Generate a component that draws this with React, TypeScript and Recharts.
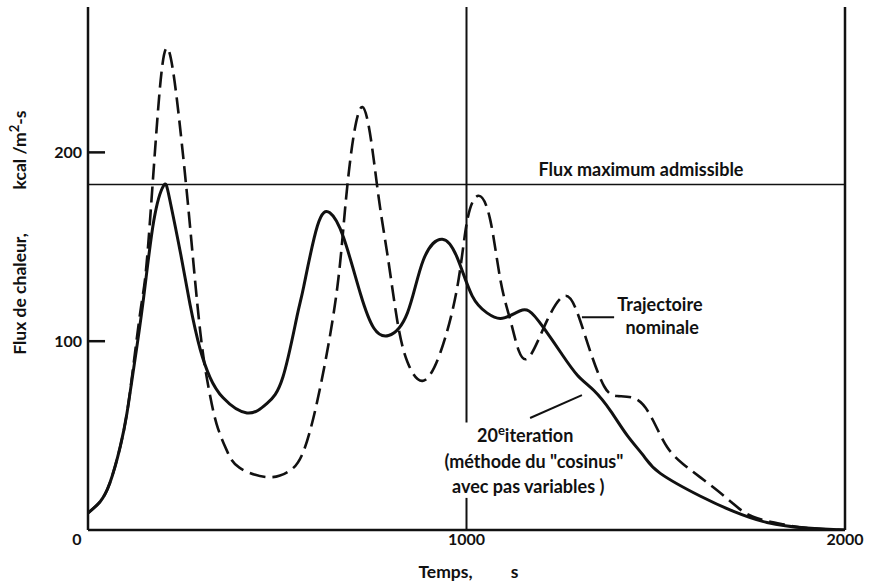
import React from "react";
import {
  LineChart,
  Line,
  XAxis,
  YAxis,
  ReferenceLine,
  ReferenceDot,
} from "recharts";

// 20e itération (méthode du "cosinus" avec pas variables)
const iterTime = [
  0, 32, 58, 85, 103, 118, 145, 174, 200, 215, 245, 270, 296, 322, 357, 420,
  473, 515, 552, 570, 606, 639, 675, 720, 755, 794, 844, 886, 936, 976, 1015,
  1054, 1090, 1130, 1165, 1204, 1249, 1293, 1336, 1381, 1425, 1469, 1512, 1617,
  1704, 1794, 1900, 2000,
];
const iterFlux = [
  9, 15, 25, 44, 62, 82, 120, 164, 182.5, 176, 146, 119, 96, 81, 70, 62, 67,
  81, 113, 129, 161, 168, 155, 125, 107, 103, 115, 143, 154, 144, 124, 115, 112,
  115, 116, 107, 94, 82, 74, 63, 50, 39, 30, 18, 10, 4, 1, 0,
];

// trajectoire nominale
const nomTime = [
  0, 32, 58, 85, 103, 118, 140, 157, 183, 211, 245, 270, 296, 318, 340, 367,
  400, 474, 530, 570, 614, 659, 685, 725, 764, 791, 817, 844, 884, 931, 976,
  1002, 1032, 1063, 1090, 1116, 1138, 1167, 1213, 1259, 1293, 1328, 1364, 1398,
  1451, 1493, 1530, 1572, 1617, 1662, 1704, 1757, 1836, 1900, 2000,
];
const nomFlux = [
  9, 15, 25, 44, 62, 84, 118, 146, 217, 255, 210, 160, 106, 76, 56, 42, 33, 28,
  31, 42, 76, 129, 182, 224, 182, 146, 111, 89, 79, 94, 129, 164, 177, 164, 132,
  111, 95, 92, 111, 124, 115, 94, 76, 71, 69, 58, 44, 35, 28, 21, 14, 7, 3, 1,
  0,
];

const xTicks = [0, 1000, 2000];
const yTicks = [100, 200];
const fluxMax = 183;

const iterData = iterTime.map((t, i) => ({ t, flux: iterFlux[i] }));
const nomData = nomTime.map((t, i) => ({ t, flux: nomFlux[i] }));

const FONT = "Lato, 'DejaVu Sans', sans-serif";

function XTick(props: any) {
  const { x, y, payload } = props;
  const dx = payload.value === 0 ? -11 : 0;
  return (
    <text
      x={x + dx}
      y={y}
      dy={11}
      textAnchor="middle"
      fontFamily={FONT}
      fontWeight={700}
      fontSize={16}
      fill="#111"
    >
      {payload.value}
    </text>
  );
}

function YTick(props: any) {
  const { x, y, payload } = props;
  return (
    <text
      x={x}
      y={y}
      dy={6}
      textAnchor="end"
      fontFamily={FONT}
      fontWeight={700}
      fontSize={16}
      fill="#111"
    >
      {payload.value}
    </text>
  );
}

function YLabel(props: any) {
  const { viewBox } = props;
  const cx = viewBox.x + 20;
  return (
    <g fontFamily={FONT} fontWeight={700} fontSize={17.5} fill="#111">
      <text x={cx} y={294} textAnchor="middle" transform={`rotate(-90 ${cx} 294)`} dy={6}>
        Flux de chaleur,
      </text>
      <text x={cx} y={150} textAnchor="middle" transform={`rotate(-90 ${cx} 150)`} dy={6}>
        kcal /m<tspan dy={-7} fontSize={13}>2</tspan>
        <tspan dy={7}>-s</tspan>
      </text>
    </g>
  );
}

function XLabel(props: any) {
  const { viewBox } = props;
  const cx = viewBox.x + viewBox.width / 2;
  const y = viewBox.y + 48;
  return (
    <g fontFamily={FONT} fontWeight={700} fontSize={17.5} fill="#111">
      <text x={cx - 21} y={y} textAnchor="middle">
        Temps,
      </text>
      <text x={cx + 48} y={y} textAnchor="middle">
        s
      </text>
    </g>
  );
}

const textStyle = {
  fontFamily: FONT,
  fontWeight: 700,
  fill: "#111",
};

function note(key: string, t: number, v: number, label: any) {
  return (
    <ReferenceDot
      key={key}
      x={t}
      y={v}
      r={0}
      ifOverflow="visible"
      shape={(p: any) => (
        <text x={p.cx} y={p.cy} dy={6} textAnchor="middle" fontSize={18} style={textStyle}>
          {label}
        </text>
      )}
    />
  );
}

export default function App() {
  return (
    <div style={{ position: "absolute", left: 0, top: 0, background: "#fff" }}>
      <LineChart
        width={873}
        height={586}
        margin={{ top: 7, right: 28, bottom: 0, left: 0 }}
      >
        <XAxis
          type="number"
          dataKey="t"
          domain={[0, 2000]}
          ticks={xTicks}
          tickLine={false}
          tickSize={0}
          tickMargin={4}
          tick={<XTick />}
          axisLine={{ stroke: "#111", strokeWidth: 2.5 }}
          height={56}
          allowDataOverflow
          label={<XLabel />}
        />
        <YAxis
          type="number"
          domain={[0, 277]}
          ticks={yTicks}
          tickLine={false}
          tickSize={0}
          tickMargin={6}
          tick={<YTick />}
          axisLine={{ stroke: "#111", strokeWidth: 2.5 }}
          width={88}
          allowDataOverflow
          label={<YLabel />}
        />
        {yTicks.map((v) => (
          <ReferenceLine
            key={"tk" + v}
            segment={[
              { x: 0, y: v },
              { x: 45, y: v },
            ]}
            stroke="#111"
            strokeWidth={2.5}
          />
        ))}
        <ReferenceLine y={fluxMax} stroke="#111" strokeWidth={1.5} />
        <ReferenceLine x={2000} stroke="#111" strokeWidth={2.5} />
        <ReferenceLine
          segment={[
            { x: 1000, y: 277 },
            { x: 1000, y: 57 },
          ]}
          stroke="#111"
          strokeWidth={2}
        />
        <ReferenceLine
          segment={[
            { x: 1000, y: 17 },
            { x: 1000, y: 0 },
          ]}
          stroke="#111"
          strokeWidth={2}
        />
        <ReferenceLine
          segment={[
            { x: 1305, y: 112.7 },
            { x: 1390, y: 112.7 },
          ]}
          stroke="#111"
          strokeWidth={2}
        />
        <ReferenceLine
          segment={[
            { x: 1168, y: 59.3 },
            { x: 1305, y: 71.4 },
          ]}
          stroke="#111"
          strokeWidth={2}
        />
        <Line
          data={nomData}
          dataKey="flux"
          type="natural"
          stroke="#111"
          strokeWidth={2.6}
          strokeDasharray="16 7"
          dot={false}
          isAnimationActive={false}
        />
        <Line
          data={iterData}
          dataKey="flux"
          type="natural"
          stroke="#111"
          strokeWidth={3}
          dot={false}
          isAnimationActive={false}
        />
        {note("fm", 1461, 190.5, "Flux maximum admissible")}
        {note("tr", 1511, 119, "Trajectoire")}
        {note("nm", 1517, 107, "nominale")}
        {note(
          "it",
          1155,
          50,
          <>
            20<tspan dy={-7} fontSize={13}>e</tspan>
            <tspan dy={7}>iteration</tspan>
          </>
        )}
        {note("me", 1178, 36, '(méthode du "cosinus"')}
        {note("av", 1163, 22.7, "avec pas variables )")}
      </LineChart>
    </div>
  );
}
